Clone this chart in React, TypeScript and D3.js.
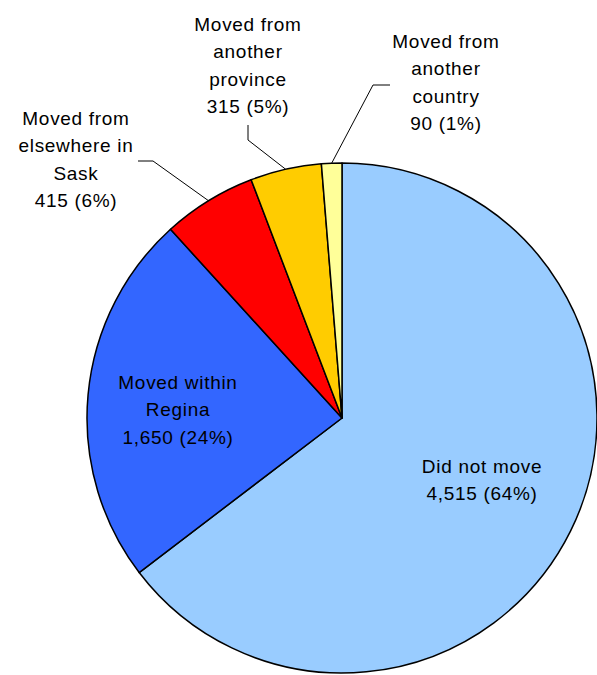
import React from "react";
import * as d3 from "d3";

const categories = [
  "Did not move",
  "Moved within Regina",
  "Moved from elsewhere in Sask",
  "Moved from another province",
  "Moved from another country",
];
const values = [4515, 1650, 415, 315, 90];
const percents = ["64%", "24%", "6%", "5%", "1%"];
const labelLines = [
  ["Did not move"],
  ["Moved within", "Regina"],
  ["Moved from", "elsewhere in", "Sask"],
  ["Moved from", "another", "province"],
  ["Moved from", "another", "country"],
];
const colors = ["#99CCFF", "#3366FF", "#FF0000", "#FFCC00", "#FFFF99"];

// label layout: center x, first baseline, optional leader elbow points
const labelLayout = [
  { x: 482, y: 473, leader: null },
  { x: 178, y: 389, leader: null },
  { x: 76, y: 125, leader: [[138, 161], [153, 161]] },
  { x: 248, y: 31, leader: [[248, 125], [248, 140]] },
  { x: 446, y: 48, leader: [[390, 85], [373, 85]] },
];

const W = 597;
const H = 675;
const cx = 342;
const cy = 418;
const R = 255;
const lineH = 27.3;

export default function App() {
  const pie = d3.pie<number>().sort(null).value((d) => d);
  const arcs = pie(values);
  const arc = d3.arc<d3.PieArcDatum<number>>().innerRadius(0).outerRadius(R);
  const edge = d3.arc<d3.PieArcDatum<number>>().innerRadius(R).outerRadius(R);
  const fmt = d3.format(",");

  return (
    <svg
      width={W}
      height={H}
      style={{ position: "absolute", left: 0, top: 0, background: "#fff" }}
      fontFamily="'Liberation Sans', Arial, sans-serif"
    >
      <g transform={`translate(${cx},${cy})`}>
        {arcs.map((a, i) => (
          <path key={i} d={arc(a) || ""} fill={colors[i]} stroke="#000" strokeWidth={1.5} strokeLinejoin="round" />
        ))}
      </g>
      {arcs.map((a, i) => {
        const L = labelLayout[i];
        if (!L.leader) return null;
        const [ex, ey] = edge.centroid(a);
        const pts = [...L.leader, [ex + cx, ey + cy]];
        const line = d3.line()(pts as [number, number][]);
        return <path key={"l" + i} d={line || ""} fill="none" stroke="#000" strokeWidth={1} />;
      })}
      {arcs.map((a, i) => {
        const L = labelLayout[i];
        const lines = [...labelLines[i], `${fmt(values[i])} (${percents[i]})`];
        return (
          <text key={"t" + i} textAnchor="middle" fontSize={19} letterSpacing={0.7} fill="#000">
            {lines.map((s, j) => (
              <tspan key={j} x={L.x} y={L.y + j * lineH}>
                {s}
              </tspan>
            ))}
          </text>
        );
      })}
    </svg>
  );
}
